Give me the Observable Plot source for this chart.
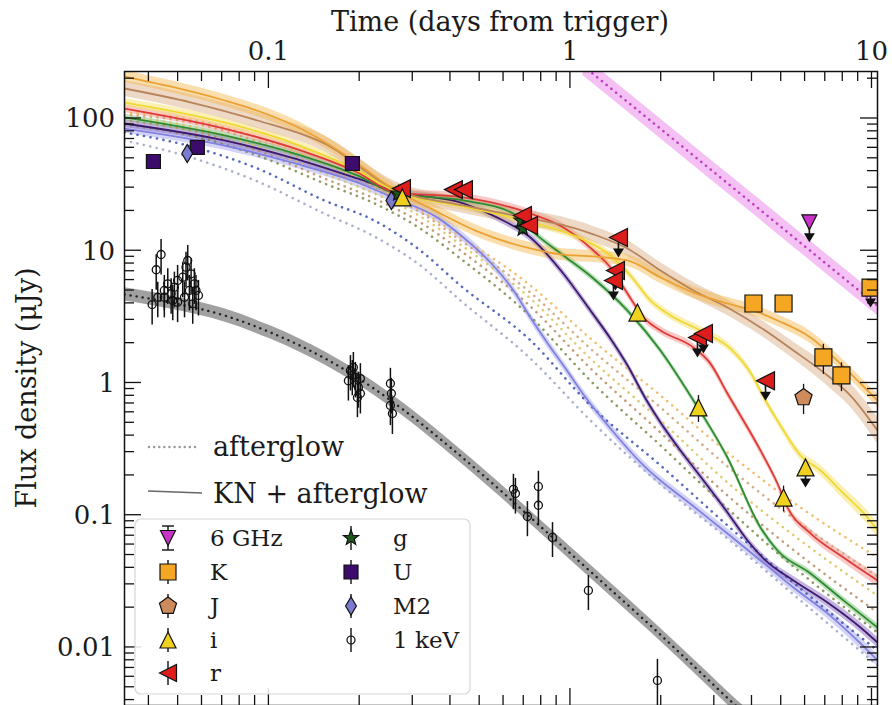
<!DOCTYPE html>
<html><head><meta charset="utf-8">
<script src="https://cdn.jsdelivr.net/npm/d3@7"></script>
<script src="https://cdn.jsdelivr.net/npm/@observablehq/plot@0.6"></script>
<style>
html,body{margin:0;padding:0;background:#fff;overflow:hidden}
#chart{width:892px;height:705px}
</style></head><body><div id="chart"></div>
<script>
// ================= DATA =================
// Tick labels
const xMajor = [0.1, 1, 10];
const xMajorLabels = ["0.1", "1", "10"];
const yMajor = [0.01, 0.1, 1, 10, 100];
const yMajorLabels = ["0.01", "0.1", "1", "10", "100"];

// Afterglow-only models (dotted), common time grid (days), flux (uJy)
const tAfterglow = [0.0332, 0.0553, 0.0916, 0.1528, 0.2239, 0.318, 0.4317, 0.7367, 1.165, 1.989, 3.317, 5.793, 10.43];
const agM2 = [68.2, 50.7, 33.4, 19.1, 12.8, 7.73, 4.21, 1.53, 0.521, 0.171, 0.0667, 0.0227, 0.00731];
const agU  = [78.4, 61.4, 41.9, 24.0, 16.9, 10.04, 5.46, 2.10, 0.676, 0.238, 0.0837, 0.0279, 0.00949];
const agG  = [90.1, 74.4, 52.5, 32.3, 22.8, 14.7, 8.74, 3.18, 1.04, 0.337, 0.1125, 0.0369, 0.01298];
const agR  = [96.6, 81.2, 57.3, 35.2, 24.8, 16.4, 10.04, 3.79, 1.29, 0.422, 0.141, 0.0496, 0.0184];
const agI  = [101.8, 87.0, 61.4, 38.4, 27.1, 18.2, 11.15, 4.36, 1.53, 0.521, 0.177, 0.0644, 0.0247];
const agJ  = [107.2, 93.3, 67.0, 41.9, 29.0, 19.5, 12.0, 4.83, 1.82, 0.653, 0.234, 0.0866, 0.0344];
const agK  = [111.0, 98.3, 71.8, 45.7, 30.6, 20.2, 12.8, 5.46, 2.17, 0.804, 0.298, 0.1145, 0.0479];

// KN + afterglow models (solid)
const knKT = [0.0332, 0.0471, 0.0712, 0.1012, 0.1272, 0.16, 0.1966, 0.2628, 0.3433, 0.5029, 0.7367, 0.9265, 1.192, 1.5457, 1.989, 2.5586, 3.3169, 4.046, 4.8587, 6.2517, 7.862, 9.1601, 10.43];
const knKF = [207.8, 174.6, 136.8, 105.4, 84.0, 62.5, 45.7, 28.5, 20.9, 13.7, 10.40, 9.37, 9.05, 8.44, 6.28, 4.83, 3.99, 3.53, 2.97, 2.21, 1.40, 0.991, 0.737];
const knJT = [0.0332, 0.0553, 0.0916, 0.1528, 0.2628, 0.4417, 0.7367, 0.9265, 1.192, 1.5457, 1.989, 2.5586, 3.3169, 4.2677, 5.4908, 7.1183, 8.486, 10.43];
const knJF = [168.6, 132.1, 96.6, 64.7, 29.0, 22.0, 17.5, 15.8, 13.3, 10.40, 7.09, 5.01, 3.72, 2.63, 1.76, 1.14, 0.804, 0.437];
const knIT = [0.0332, 0.0712, 0.1188, 0.1966, 0.2628, 0.4417, 0.7367, 1.0794, 1.3571, 1.581, 1.842, 2.147, 2.700, 3.394, 3.954, 4.435, 4.971, 5.793, 6.750, 8.0446, 9.661, 10.43];
const knIF = [132.1, 93.3, 65.8, 40.4, 28.1, 21.6, 16.4, 12.4, 9.21, 6.50, 4.21, 3.24, 2.49, 1.82, 1.20, 0.737, 0.477, 0.283, 0.218, 0.146, 0.0962, 0.0767];
const knRT = [0.0332, 0.0712, 0.1188, 0.1966, 0.2628, 0.4417, 0.7367, 0.948, 1.192, 1.3571, 1.5457, 1.7466, 1.989, 2.5586, 2.9128, 3.3169, 4.2677, 4.8587, 5.245, 6.2517, 8.0446, 10.43];
const knRF = [119.0, 84.0, 60.4, 39.1, 27.6, 25.3, 19.1, 15.0, 10.04, 7.47, 4.75, 3.13, 2.49, 1.855, 1.40, 0.833, 0.309, 0.174, 0.1145, 0.0728, 0.0479, 0.0321];
const knGT = [0.0332, 0.0712, 0.1188, 0.1966, 0.2628, 0.4417, 0.6472, 0.777, 0.948, 1.192, 1.5457, 1.989, 2.5586, 3.3169, 4.2677, 4.8587, 6.2517, 8.0446, 10.43];
const knGF = [101.8, 74.4, 55.3, 37.1, 27.1, 24.0, 19.1, 13.0, 9.21, 6.17, 3.53, 1.76, 0.737, 0.2733, 0.0808, 0.0541, 0.0363, 0.0227, 0.01417];
const knUT = [0.0332, 0.0712, 0.1188, 0.1966, 0.2628, 0.4417, 0.5727, 0.7367, 0.9408, 1.165, 1.3571, 1.5457, 1.774, 1.989, 2.2645, 2.762, 3.3169, 3.865, 4.435, 5.4908, 7.1183, 9.1601, 10.43];
const knUF = [91.7, 68.2, 50.7, 35.2, 28.1, 22.8, 17.8, 12.6, 6.85, 3.53, 2.17, 1.36, 0.764, 0.503, 0.331, 0.183, 0.105, 0.0644, 0.0455, 0.0321, 0.0219, 0.01417, 0.01091];
const knM2T = [0.0332, 0.0712, 0.1188, 0.1966, 0.2628, 0.3622, 0.4417, 0.5429, 0.6472, 0.7367, 0.8389, 0.9625, 1.104, 1.3571, 1.7466, 2.5586, 3.3169, 4.2677, 5.4908, 7.1183, 9.1601, 10.43];
const knM2F = [84.0, 62.5, 46.5, 32.8, 24.8, 17.8, 12.6, 8.15, 5.01, 3.13, 2.01, 1.29, 0.819, 0.453, 0.238, 0.1168, 0.0728, 0.0455, 0.0284, 0.0181, 0.01072, 0.00798];

// Radio 6 GHz model and X-ray 1 keV model
const radioT = [1.1, 2, 4, 7, 10.5];
const radioF = [251, 82.8, 22.9, 8.07, 3.80];
const xModelT = [0.0332, 0.0471, 0.0712, 0.1012, 0.1266, 0.187, 0.2727, 0.400, 0.586, 0.858, 1.257, 1.842, 2.70, 3.53, 4.27];
const xModelF = [4.67, 4.06, 3.24, 2.41, 1.92, 1.18, 0.653, 0.325, 0.154, 0.0703, 0.0321, 0.01466, 0.00647, 0.00364, 0.00248];

// Uncertainty band half-widths (dex): [early, late]
const bandK = [0.045, 0.05], bandJ = [0.06, 0.1], bandI = [0.03, 0.055], bandR = [0.03, 0.045];
const bandG = [0.025, 0.03], bandU = [0.03, 0.04], bandM2 = [0.035, 0.045];
const bandRadio = [0.075, 0.075], bandX = [0.05, 0.07];

// Observations
const xrayT = [0.0410,0.0423,0.0439,0.0428,0.0450,0.0450,0.0462,0.0474,0.0480,0.0486,0.0498,0.0498,0.0518,0.0525,0.0531,0.0538,0.0545,0.0552,0.0559,0.0566,0.0573,0.0584,
  0.1835,0.1864,0.1906,0.1936,0.1966,0.1981,0.2011,0.2011,0.1890,
  0.2529,0.2548,0.2529,0.2568,
  0.647,0.657,0.720,0.783,0.783,0.872,1.147,1.943];
const xrayF = [3.92,7.18,9.37,4.45,5.01,4.45,5.62,4.73,4.21,5.30,5.96,4.08,6.31,4.45,7.51,8.44,5.01,6.69,3.97,5.62,5.01,4.59,
  1.04,1.24,1.31,1.10,0.777,0.925,0.833,1.08,1.14,
  0.991,0.833,0.676,0.588,
  0.157,0.146,0.0978,0.165,0.119,0.0679,0.0270,0.00563];
const xrayE = [1.18,2.15,2.81,1.34,1.50,1.34,1.69,1.42,1.26,1.59,1.79,1.22,1.89,1.34,2.25,2.53,1.50,2.01,1.19,1.69,1.50,1.38,
  0.31,0.37,0.39,0.33,0.23,0.28,0.25,0.32,0.34,
  0.30,0.25,0.20,0.18,
  0.047,0.044,0.029,0.05,0.036,0.02,0.008,0.0025];

const uT = [0.0414, 0.0579, 0.1892], uF = [47.3, 60.4, 45.7], uE = [2, 6, 2];
const m2T = [0.0536, 0.2548], m2F = [54.4, 24.0], m2E = [3, 2];
const gT = [0.2688, 0.688, 0.695], gF = [27.1, 16.9, 14.7], gE = [2, 1.5, 1.5];
const rT = [0.2751, 0.409, 0.4417, 0.693, 0.726], rF = [29.5, 29.0, 29.0, 18.5, 15.5];
const rUlT = [1.443, 1.410, 1.389, 2.638, 2.761, 4.435], rUlF = [12.6, 7.09, 5.96, 2.21, 2.37, 1.04];
const iT = [0.277, 1.668, 2.658, 5.09], iF = [25.3, 3.41, 0.653, 0.136], iE = [1.5, 0.3, 0.15, 0.03];
const iUlT = [6.02], iUlF = [0.2297];
const kT = [4.045, 5.09, 6.90, 7.92], kF = [3.99, 3.99, 1.56, 1.14], kE = [0.3, 0.3, 0.4, 0.28];
const kUlT = [9.89], kUlF = [5.27];
const jT = [5.93], jF = [0.777], jE = [0.2];
const radioUlT = [6.20], radioUlF = [16.4];

// Colours
const C = {
  K: {line: "#eba133", band: "#f5b64a", mark: "#f5a623", dot: "#f0b45a"},
  J: {line: "#b8845a", band: "#d8aa80", mark: "#cd8a5a", dot: "#cf9f72"},
  i: {line: "#f0d834", band: "#f5e26a", mark: "#efd21e", dot: "#d9c25a"},
  r: {line: "#df3b36", band: "#f08880", mark: "#dd1c1c", dot: "#bd8c62"},
  g: {line: "#2e8b2e", band: "#6ab86a", mark: "#1c5a1c", dot: "#7a8a45"},
  U: {line: "#3d1a6e", band: "#7a5ab8", mark: "#3b0c6b", dot: "#3a4fb0"},
  M2: {line: "#8080e0", band: "#a9a9f2", mark: "#7b7bd0", dot: "#9ca3c4"},
  radio: {band: "#f0a0f0", dot: "#c040c0", mark: "#c833c8"}
};

// ================= helpers =================
const rows = (T, F, E) => T.map((t, i) => ({t, f: F[i], e: E ? E[i] : 0}));
function bandRows(T, F, [w, wEnd]) {
  const l0 = Math.log10(5), l1 = Math.log10(10.43);
  return T.map((t, i) => {
    const a = Math.max(0, Math.min(1, (Math.log10(t) - l0) / (l1 - l0)));
    const h = w + (wEnd - w) * a;
    return {t, lo: F[i] / 10 ** h, hi: F[i] * 10 ** h};
  });
}
const sym = fn => ({draw(c, size) { fn(c, Math.sqrt(size / Math.PI)); }});
const symSquare = sym((c, s) => { c.moveTo(-s, -s); c.lineTo(s, -s); c.lineTo(s, s); c.lineTo(-s, s); c.closePath(); });
const symTriUp = sym((c, s) => { c.moveTo(0, -s); c.lineTo(s, s); c.lineTo(-s, s); c.closePath(); });
const symTriDown = sym((c, s) => { c.moveTo(0, s); c.lineTo(s, -s); c.lineTo(-s, -s); c.closePath(); });
const symTriLeft = sym((c, s) => { c.moveTo(-s, 0); c.lineTo(s, -s); c.lineTo(s, s); c.closePath(); });
const symPent = sym((c, s) => { for (let k = 0; k < 5; k++) { const a = -Math.PI / 2 + k * 2 * Math.PI / 5; k ? c.lineTo(s * Math.cos(a), s * Math.sin(a)) : c.moveTo(s * Math.cos(a), s * Math.sin(a)); } c.closePath(); });
const symThinDiamond = sym((c, s) => { c.moveTo(0, -s); c.lineTo(0.6 * s, 0); c.lineTo(0, s); c.lineTo(-0.6 * s, 0); c.closePath(); });
const symStar = sym((c, s) => { for (let k = 0; k < 10; k++) { const a = -Math.PI / 2 + k * Math.PI / 5; const R = k % 2 ? 0.42 * s : s; k ? c.lineTo(R * Math.cos(a), R * Math.sin(a)) : c.moveTo(R * Math.cos(a), R * Math.sin(a)); } c.closePath(); });
const symCircle = sym((c, s) => { c.moveTo(s, 0); c.arc(0, 0, s, 0, 2 * Math.PI); });
const symArrow = {draw(c) { c.moveTo(-0.8, 0); c.lineTo(0.8, 0); c.lineTo(0.8, 11); c.lineTo(5.5, 11); c.lineTo(0, 20); c.lineTo(-5.5, 11); c.lineTo(-0.8, 11); c.closePath(); }};

const CURVE = "monotone-x";
const dotted = (T, F, color, extra = {}) => Plot.line(rows(T, F), {x: "t", y: "f", stroke: color, strokeWidth: 2.6, strokeOpacity: 0.85, strokeDasharray: "0.1,6.5", strokeLinecap: "round", curve: CURVE, clip: true, ...extra});
const bandMark = (T, F, w, color, op = 0.45) => Plot.areaY(bandRows(T, F, w), {x: "t", y1: "lo", y2: "hi", fill: color, fillOpacity: op, curve: CURVE, clip: true});
const solid = (T, F, color, sw = 1.8) => Plot.line(rows(T, F), {x: "t", y: "f", stroke: color, strokeWidth: sw, curve: CURVE, clip: true});
const errs = (T, F, E, sw = 1.3) => Plot.ruleX(rows(T, F, E), {x: "t", y1: d => d.f - d.e, y2: d => d.f + d.e, stroke: "#111", strokeWidth: sw});
const marks = (T, F, symbol, r, fill, extra = {}) => Plot.dot(rows(T, F), {x: "t", y: "f", symbol, r, fill, stroke: "#111", strokeWidth: 1.2, ...extra});
const arrows = (T, F) => Plot.dot(rows(T, F), {x: "t", y: "f", symbol: symArrow, r: 5, fill: "#111", stroke: "none"});

// ================= plot =================
const plot = Plot.plot({
  width: 892, height: 705,
  marginLeft: 124, marginRight: 15, marginTop: 71, marginBottom: 0,
  style: {fontFamily: "DejaVu Serif", background: "white", overflow: "visible"},
  x: {type: "log", domain: [0.0332, 10.43], axis: null},
  y: {type: "log", domain: [0.00364, 226.7], axis: null},
  marks: [
    // radio
    bandMark(radioT, radioF, bandRadio, C.radio.band, 0.65),
    dotted(radioT, radioF, C.radio.dot, {strokeDasharray: "0.1,6", strokeOpacity: 1}),
    // X-ray
    bandMark(xModelT, xModelF, bandX, "#8a8a8a", 0.8),
    dotted(xModelT, xModelF, "#222", {strokeDasharray: "0.1,6", strokeWidth: 2.4, strokeOpacity: 1}),
    // KN + afterglow bands
    bandMark(knM2T, knM2F, bandM2, C.M2.band, 0.5),
    bandMark(knUT, knUF, bandU, C.U.band, 0.45),
    bandMark(knGT, knGF, bandG, C.g.band, 0.45),
    bandMark(knRT, knRF, bandR, C.r.band, 0.45),
    bandMark(knIT, knIF, bandI, C.i.band, 0.5),
    bandMark(knJT, knJF, bandJ, C.J.band, 0.45),
    bandMark(knKT, knKF, bandK, C.K.band, 0.45),
    // afterglow dotted
    dotted(tAfterglow, agM2, C.M2.dot),
    dotted(tAfterglow, agU, C.U.dot),
    dotted(tAfterglow, agG, C.g.dot),
    dotted(tAfterglow, agR, C.r.dot),
    dotted(tAfterglow, agI, C.i.dot),
    dotted(tAfterglow, agJ, C.J.dot),
    dotted(tAfterglow, agK, C.K.dot),
    // KN + afterglow lines
    solid(knM2T, knM2F, C.M2.line),
    solid(knUT, knUF, C.U.line),
    solid(knGT, knGF, C.g.line),
    solid(knRT, knRF, C.r.line),
    solid(knIT, knIF, C.i.line),
    solid(knJT, knJF, C.J.line),
    solid(knKT, knKF, C.K.line),
    // observations
    errs(xrayT, xrayF, xrayE, 1.5),
    marks(xrayT, xrayF, symCircle, 4, "none", {stroke: "#111", strokeWidth: 1.3}),
    errs(uT, uF, uE), marks(uT, uF, symSquare, 7, C.U.mark),
    errs(m2T, m2F, m2E), marks(m2T, m2F, symThinDiamond, 9, C.M2.mark),
    errs(gT, gF, gE), marks(gT, gF, symStar, 8, C.g.mark),
    marks(rT, rF, symTriLeft, 9, C.r.mark),
    arrows(rUlT, rUlF), marks(rUlT, rUlF, symTriLeft, 9, C.r.mark),
    errs(iT, iF, iE), marks(iT, iF, symTriUp, 8.5, C.i.mark),
    arrows(iUlT, iUlF), marks(iUlT, iUlF, symTriUp, 8.5, C.i.mark),
    errs(jT, jF, jE), marks(jT, jF, symPent, 9, C.J.mark),
    errs(kT, kF, kE), marks(kT, kF, symSquare, 8.5, C.K.mark),
    arrows(kUlT, kUlF), marks(kUlT, kUlF, symSquare, 8.5, C.K.mark, {clip: true}),
    arrows(radioUlT, radioUlF), marks(radioUlT, radioUlF, symTriDown, 7.5, C.radio.mark),
    Plot.frame({stroke: "#111", strokeWidth: 1.5})
  ]
});
document.getElementById("chart").appendChild(plot);

// ================= axes (ticks inward on all sides, via Plot's scales) =================
const sx = plot.scale("x"), sy = plot.scale("y");
const svg = d3.select(plot);
const X0 = 124, X1 = 877, Y0 = 71, Y1 = 705;
const minorOf = majors => majors.flatMap(m => [2,3,4,5,6,7,8,9].map(k => +(m * k).toPrecision(3)));
const xMinor = minorOf([0.01, 0.1, 1]).filter(v => v >= 0.0332 && v <= 10.43);
const yMinor = minorOf([0.001, 0.01, 0.1, 1, 10, 100]).filter(v => v >= 0.00364 && v <= 226.7);
const ax = svg.append("g").attr("stroke", "#111").attr("stroke-width", 1.3);
const MAJ = 17, MIN = 10;
for (const [vals, len] of [[xMajor, MAJ], [xMinor, MIN]]) for (const v of vals) {
  const px = sx.apply(v);
  ax.append("line").attr("x1", px).attr("x2", px).attr("y1", Y0).attr("y2", Y0 + len);
  ax.append("line").attr("x1", px).attr("x2", px).attr("y1", Y1).attr("y2", Y1 - len);
}
for (const [vals, len] of [[yMajor, MAJ], [yMinor, MIN]]) for (const v of vals) {
  const py = sy.apply(v);
  ax.append("line").attr("y1", py).attr("y2", py).attr("x1", X0).attr("x2", X0 + len);
  ax.append("line").attr("y1", py).attr("y2", py).attr("x1", X1).attr("x2", X1 - len);
}
const tx = svg.append("g").attr("font-family", "DejaVu Serif").attr("fill", "#1a1a1a").attr("text-anchor", "start");
xMajor.forEach((v, i) => tx.append("text").attr("x", sx.apply(v)).attr("y", 60).attr("text-anchor", "middle").attr("font-size", 26).text(xMajorLabels[i]));
yMajor.forEach((v, i) => tx.append("text").attr("x", 115).attr("y", sy.apply(v)).attr("dy", "0.36em").attr("text-anchor", "end").attr("font-size", 26).text(yMajorLabels[i]));
tx.append("text").attr("x", 500).attr("y", 31).attr("text-anchor", "middle").attr("font-size", 27).text("Time (days from trigger)");
tx.append("text").attr("transform", "translate(36,388) rotate(-90)").attr("text-anchor", "middle").attr("font-size", 27).text("Flux density (\u03bcJy)");

// ================= legends =================
// line-style legend
tx.append("line").attr("x1", 149).attr("x2", 198).attr("y1", 447).attr("y2", 447).attr("stroke", "#999").attr("stroke-width", 2.4).attr("stroke-dasharray", "0.1,5").attr("stroke-linecap", "round");
tx.append("text").attr("x", 213).attr("y", 456).attr("text-anchor", "start").attr("font-size", 27).text("afterglow");
tx.append("line").attr("x1", 148).attr("x2", 202).attr("y1", 491).attr("y2", 493).attr("stroke", "#666").attr("stroke-width", 1.6);
tx.append("text").attr("x", 213).attr("y", 503).attr("text-anchor", "start").attr("font-size", 27).text("KN + afterglow");

// marker legend
const lg = svg.append("g").attr("font-family", "DejaVu Serif").attr("text-anchor", "start");
lg.append("rect").attr("x", 135).attr("y", 519).attr("width", 335).attr("height", 175).attr("rx", 6)
  .attr("fill", "white").attr("fill-opacity", 0.85).attr("stroke", "#d6d6d6").attr("stroke-width", 1.2);
const legendEntries = [
  {label: "6 GHz", symbol: symTriDown, s: 7.5, fill: C.radio.mark, col: 0, row: 0, caps: true},
  {label: "K", symbol: symSquare, s: 8, fill: C.K.mark, col: 0, row: 1},
  {label: "J", symbol: symPent, s: 9, fill: C.J.mark, col: 0, row: 2},
  {label: "i", symbol: symTriUp, s: 8, fill: C.i.mark, col: 0, row: 3},
  {label: "r", symbol: symTriLeft, s: 8.5, fill: C.r.mark, col: 0, row: 4},
  {label: "g", symbol: symStar, s: 8, fill: C.g.mark, col: 1, row: 0},
  {label: "U", symbol: symSquare, s: 7, fill: C.U.mark, col: 1, row: 1},
  {label: "M2", symbol: symThinDiamond, s: 9, fill: C.M2.mark, col: 1, row: 2},
  {label: "1 keV", symbol: symCircle, s: 4, fill: "none", col: 1, row: 3}
];
const rowY = [538, 572, 606, 640, 673];
const colX = [168, 351];
for (const e of legendEntries) {
  const x = colX[e.col], y = rowY[e.row];
  lg.append("line").attr("x1", x).attr("x2", x).attr("y1", y - 12).attr("y2", y + 12).attr("stroke", "#111").attr("stroke-width", 1.4);
  if (e.caps) {
    lg.append("line").attr("x1", x - 6).attr("x2", x + 6).attr("y1", y - 12).attr("y2", y - 12).attr("stroke", "#111").attr("stroke-width", 1.4);
    lg.append("line").attr("x1", x - 6).attr("x2", x + 6).attr("y1", y + 12).attr("y2", y + 12).attr("stroke", "#111").attr("stroke-width", 1.4);
  }
  lg.append("path").attr("transform", `translate(${x},${y})`).attr("d", d3.symbol().type(e.symbol).size(Math.PI * e.s * e.s)())
    .attr("fill", e.fill).attr("stroke", "#111").attr("stroke-width", 1.2);
  lg.append("text").attr("x", x + 42).attr("y", y + 8).attr("text-anchor", "start").attr("font-size", 23).attr("fill", "#1a1a1a").text(e.label);
}
</script>
</body></html>
